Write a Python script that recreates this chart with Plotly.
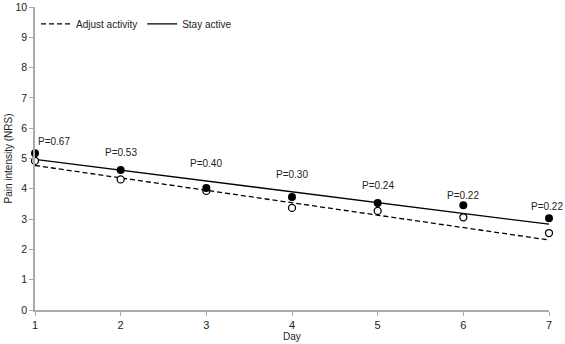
import plotly.graph_objects as go
import numpy as np

days = [1, 2, 3, 4, 5, 6, 7]
stay_active = [5.17, 4.62, 4.03, 3.73, 3.53, 3.46, 3.03]
adjust_activity = [4.92, 4.31, 3.93, 3.37, 3.27, 3.06, 2.54]
p_labels = ["P=0.67", "P=0.53", "P=0.40", "P=0.30", "P=0.24", "P=0.22", "P=0.22"]
# trend line coefficients: [intercept at day 0, slope per day]
stay_trend = [5.33, -0.357]
adjust_trend = [5.18, -0.41]
y_ticks = list(range(0, 11))

x = np.array(days, dtype=float)
stay_line = stay_trend[0] + stay_trend[1] * x
adjust_line = adjust_trend[0] + adjust_trend[1] * x

FONT = "Liberation Sans, Arial, sans-serif"
FS = 10
fig = go.Figure()

fig.add_trace(go.Scatter(x=days, y=adjust_line, mode="lines", name="Adjust activity",
                         line=dict(color="black", width=1.3, dash="5px,3px"),
                         cliponaxis=False))
fig.add_trace(go.Scatter(x=days, y=stay_line, mode="lines", name="Stay active",
                         line=dict(color="black", width=1.3), cliponaxis=False))
fig.add_trace(go.Scatter(x=days, y=adjust_activity, mode="markers", showlegend=False,
                         marker=dict(symbol="circle", size=7, color="white",
                                     line=dict(color="black", width=1.3)),
                         cliponaxis=False))
fig.add_trace(go.Scatter(x=days, y=stay_active, mode="markers", showlegend=False,
                         marker=dict(symbol="circle", size=8, color="black"),
                         cliponaxis=False))

n = len(days)
for i, (d, lab) in enumerate(zip(days, p_labels)):
    if i == 0:
        xa, xs = "left", 1
    elif i == n - 1:
        xa, xs = "right", 16
    else:
        xa, xs = "center", 0
    fig.add_annotation(x=d, y=stay_line[i], text=lab, showarrow=False,
                       xanchor=xa, xshift=xs, yanchor="bottom", yshift=10,
                       font=dict(family=FONT, size=FS, color="#222"))

# axis titles
fig.add_annotation(xref="paper", yref="paper", x=0.5, y=0, yshift=-26,
                   text="Day", showarrow=False, yanchor="middle",
                   font=dict(family=FONT, size=FS, color="#222"))
fig.add_annotation(xref="paper", yref="paper", x=0, y=0.5, xshift=-27,
                   text="Pain intensity (NRS)", showarrow=False, textangle=-90,
                   xanchor="center", yanchor="middle",
                   font=dict(family=FONT, size=FS, color="#222"))

fig.update_layout(
    width=565, height=344,
    margin=dict(l=35, r=16, t=7, b=34),
    paper_bgcolor="white", plot_bgcolor="white",
    font=dict(family=FONT, size=FS, color="#222"),
    showlegend=True,
    legend=dict(orientation="h", x=0.002, y=0.992, xanchor="left", yanchor="top",
                bgcolor="rgba(0,0,0,0)", itemwidth=30,
                font=dict(family=FONT, size=FS, color="#222")),
    xaxis=dict(range=[1, 7], tickvals=days, showgrid=False, zeroline=False,
               showline=True, linecolor="#aaaaaa", linewidth=1.5,
               ticks="outside", ticklen=4, tickcolor="#aaaaaa", automargin=False,
               tickfont=dict(size=11)),
    yaxis=dict(range=[0, 10], tickvals=y_ticks, showgrid=False, zeroline=False,
               showline=True, linecolor="#aaaaaa", linewidth=1.5,
               ticks="outside", ticklen=4, tickcolor="#aaaaaa", automargin=False,
               tickfont=dict(size=10.5), ticklabeloverflow="allow"),
)

fig.write_html("out.html", config={"displayModeBar": False},
               post_script="document.body.style.margin='0';")
